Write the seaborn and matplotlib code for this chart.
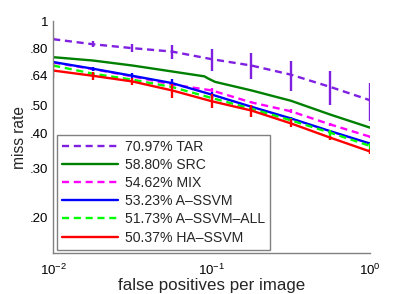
import numpy as np
import pandas as pd
import seaborn as sns
from matplotlib import pyplot as plt
from matplotlib.ticker import FixedLocator, FixedFormatter, LogLocator, NullFormatter

fppi = [0.01, 0.0178, 0.0316, 0.0562, 0.1, 0.178, 0.316, 0.562, 1.0]

tar = [0.862, 0.827, 0.801, 0.779, 0.732, 0.695, 0.645, 0.583, 0.523]
tar_err = [0.014, 0.020, 0.026, 0.044, 0.066, 0.074, 0.079, 0.081, 0.081]

src_x = [0.01, 0.0178, 0.0316, 0.0562, 0.09, 0.095, 0.105, 0.178, 0.316, 0.562, 1.0]
src = [0.744, 0.724, 0.695, 0.662, 0.636, 0.625, 0.608, 0.567, 0.521, 0.465, 0.418]

mix = [0.712, 0.675, 0.636, 0.595, 0.567, 0.514, 0.478, 0.429, 0.388]
mix_err = [0.0, 0.0, 0.0, 0.0, 0.009, 0.004, 0.008, 0.004, 0.004]

assvm = [0.715, 0.677, 0.639, 0.602, 0.548, 0.496, 0.451, 0.406, 0.367]
assvm_err = [0.0, 0.011, 0.016, 0.020, 0.013, 0.008, 0.004, 0.004, 0.004]

assvm_all = [0.695, 0.650, 0.619, 0.583, 0.533, 0.488, 0.444, 0.401, 0.360]
assvm_all_err = [0.0, 0.0, 0.0, 0.0, 0.004, 0.004, 0.007, 0.010, 0.009]

hassvm = [0.667, 0.639, 0.610, 0.567, 0.519, 0.481, 0.433, 0.385, 0.344]
hassvm_err = [0.038, 0.021, 0.015, 0.032, 0.030, 0.023, 0.014, 0.006, 0.006]

labels = ["70.97% TAR", "58.80% SRC", "54.62% MIX",
          "53.23% A\u2013SSVM", "51.73% A\u2013SSVM\u2013ALL", "50.37% HA\u2013SSVM"]
colors = ["#7f1fe0", "#008000", "#ff00ff", "#0000ff", "#00ff00", "#ff0000"]
dashed = [True, False, True, False, True, False]

yticks = [0.20, 0.30, 0.40, 0.50, 0.64, 0.80, 1.0]
ytick_labels = [".20", ".30", ".40", ".50", ".64", ".80", "1"]

sns.set_style("white")
plt.rcParams['font.family'] = ['Liberation Sans', 'DejaVu Sans']
plt.rcParams['mathtext.fontset'] = 'custom'
plt.rcParams['mathtext.rm'] = 'Liberation Sans'
plt.rcParams['mathtext.it'] = 'Liberation Sans'

fig = plt.figure(figsize=(4.09, 2.94), dpi=100)
ax = fig.add_axes([0.130, 0.1395, 0.775, 0.789])

series = [
    (fppi, tar, tar_err),
    (src_x, src, None),
    (fppi, mix, mix_err),
    (fppi, assvm, assvm_err),
    (fppi, assvm_all, assvm_all_err),
    (fppi, hassvm, hassvm_err),
]

for (xs, ys, err), lab, col, dsh in zip(series, labels, colors, dashed):
    df = pd.DataFrame({"fppi": xs, "miss": ys})
    sns.lineplot(data=df, x="fppi", y="miss", ax=ax, color=col, lw=1.7,
                 label=lab, linestyle=(0, (3.0, 2.0)) if dsh else "-")
    if err is not None:
        ax.errorbar(xs, ys, yerr=err, fmt="none", ecolor=col, elinewidth=1.7,
                    capsize=0)

ax.set_xscale("log")
ax.set_yscale("log")
ax.set_xlim(0.01, 1.0)
ax.set_ylim(0.15, 1.0)

ax.yaxis.set_major_locator(FixedLocator(yticks))
ax.yaxis.set_major_formatter(FixedFormatter(ytick_labels))
ax.yaxis.set_minor_locator(FixedLocator([]))
ax.xaxis.set_major_locator(FixedLocator([0.01, 0.1, 1.0]))
ax.xaxis.set_major_formatter(FixedFormatter([r"$10^{-2}$", r"$10^{-1}$", r"$10^{0}$"]))
ax.xaxis.set_minor_locator(LogLocator(base=10, subs=np.arange(2, 10)))
ax.xaxis.set_minor_formatter(NullFormatter())

for side in ["top", "right"]:
    ax.spines[side].set_visible(False)
for side in ["left", "bottom"]:
    ax.spines[side].set_color("#808080")
    ax.spines[side].set_linewidth(1.0)
ax.tick_params(axis="both", which="both", direction="in", colors="#808080",
               labelcolor="black", labelsize=9.5)
ax.tick_params(which="major", length=3)
ax.tick_params(which="minor", length=2)
ax.tick_params(axis="x", pad=7)

ax.set_xlabel("false positives per image", fontsize=12.2, labelpad=0)
ax.set_ylabel("miss rate", fontsize=11.2, labelpad=2)

leg = ax.legend(loc="lower left", bbox_to_anchor=(0.012, 0.015), borderaxespad=0,
                fancybox=False, fontsize=10.1, handlelength=4.0, labelspacing=0.3,
                handletextpad=0.5, borderpad=0.35, framealpha=1)
leg.get_frame().set_edgecolor("#808080")
leg.get_frame().set_linewidth(1.0)

plt.savefig("out.png", dpi=100)
